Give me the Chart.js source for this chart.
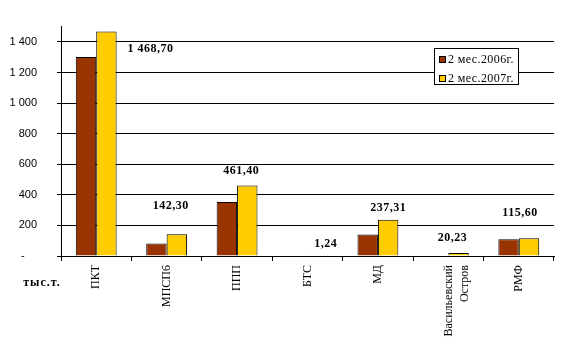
<!DOCTYPE html>
<html><head><meta charset="utf-8">
<script src="https://cdn.jsdelivr.net/npm/chart.js@4/dist/chart.umd.min.js"></script>
<style>html,body{margin:0;padding:0;background:#fff}#w{width:562px;height:341px}</style>
</head><body><div id="w"><canvas id="c" width="562" height="341"></canvas></div>
<script>
const categories = ['ПКТ', 'МПСП6', 'ППП', 'БТС', 'МД', ['Васильевский', 'Остров'], 'РМФ'];
const seriesNames = ['2 мес.2006г.', '2 мес.2007г.'];
const values2006 = [1301, 82, 353, 0, 140, 0, 110];
const values2007 = [1468.70, 142.30, 461.40, 1.24, 237.31, 20.23, 115.60];
const labels2007 = ['1 468,70', '142,30', '461,40', '1,24', '237,31', '20,23', '115,60'];
const yTicks = [0, 200, 400, 600, 800, 1000, 1200, 1400];
const unitLabel = 'тыс.т.';

const labelOffsets = [[44, 18], [-6, -28], [-6, -15], [8, -12], [0, -12], [-6, -15], [-9, -25]];

const extras = {
  id: 'extras',
  afterDatasetsDraw(chart) {
    const ctx = chart.ctx;
    const meta = chart.getDatasetMeta(1);
    ctx.save();
    ctx.fillStyle = '#000';
    ctx.font = 'bold 12px "Liberation Serif", serif';
    ctx.letterSpacing = '0.5px';
    ctx.textAlign = 'center';
    ctx.textBaseline = 'middle';
    meta.data.forEach((bar, i) => {
      const o = labelOffsets[i];
      ctx.fillText(labels2007[i], bar.x + o[0], bar.y + o[1]);
    });
    // unit label
    ctx.letterSpacing = '1px';
    ctx.font = 'bold 12px "Liberation Serif", serif';
    ctx.fillText(unitLabel, 42, 283);
    // legend
    const lx = 434, ly = 48, lw = 84, lh = 36;
    ctx.fillStyle = '#fff';
    ctx.fillRect(lx, ly, lw, lh);
    ctx.strokeStyle = '#000';
    ctx.lineWidth = 1;
    ctx.strokeRect(lx + 0.5, ly + 0.5, lw, lh);
    ctx.font = '12px "Liberation Serif", serif';
    ctx.letterSpacing = '0.4px';
    ctx.textAlign = 'left';
    chart.data.datasets.forEach((ds, i) => {
      const y = ly + 11 + i * 19;
      ctx.fillStyle = ds.backgroundColor;
      ctx.fillRect(lx + 5, y - 3, 7, 7);
      ctx.strokeRect(lx + 5.5, y - 2.5, 6, 6);
      ctx.fillStyle = '#000';
      ctx.fillText(ds.label, lx + 14, y + 1);
    });
    ctx.restore();
  }
};

new Chart(document.getElementById('c'), {
  type: 'bar',
  data: {
    labels: categories,
    datasets: [
      { label: seriesNames[0], data: values2006, backgroundColor: '#993300', borderColor: '#000', borderWidth: 1, borderSkipped: 'bottom' },
      { label: seriesNames[1], data: values2007, backgroundColor: '#FFCC00', borderColor: '#000', borderWidth: 1, borderSkipped: 'bottom' }
    ]
  },
  options: {
    responsive: false,
    animation: false,
    devicePixelRatio: 1,
    layout: { padding: { left: 0, right: 8, top: 24, bottom: 0 } },
    plugins: { legend: { display: false }, tooltip: { enabled: false } },
    datasets: { bar: { categoryPercentage: 0.58, barPercentage: 1.0 } },
    scales: {
      x: {
        grid: { drawOnChartArea: false, drawTicks: true, tickLength: 5, color: '#000', offset: true },
        border: { display: true, color: '#000', width: 1 },
        ticks: {
          maxRotation: 90, minRotation: 90, autoSkip: false, color: '#000',
          font: { family: '"Liberation Serif", serif', size: 12, lineHeight: 1.4 }, padding: 4
        },
        afterFit(s) { s.height = 85; }
      },
      y: {
        min: 0, max: 1500,
        afterBuildTicks(s) { s.ticks = yTicks.map(v => ({ value: v })); },
        grid: { color: '#000', tickLength: 4, drawTicks: true },
        border: { display: true, color: '#000', width: 1 },
        ticks: {
          color: '#000', font: { family: '"Liberation Sans", Arial, sans-serif', size: 11 }, padding: 20,
          callback(v) { return v === 0 ? '-    ' : String(v).replace(/\B(?=(\d{3})+(?!\d))/g, ' '); }
        },
        afterFit(s) { s.width = 61; }
      }
    }
  },
  plugins: [extras]
});
</script></body></html>
